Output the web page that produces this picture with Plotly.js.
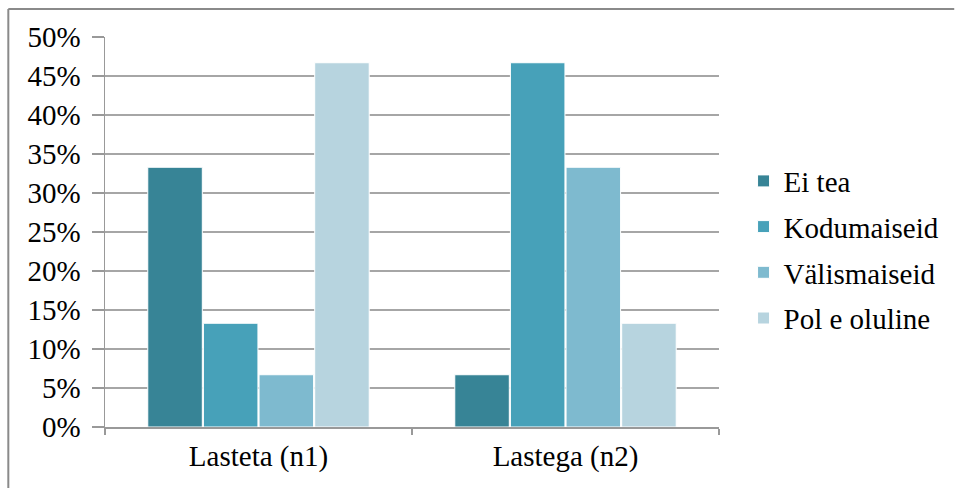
<!DOCTYPE html>
<html>
<head>
<meta charset="utf-8">
<script src="https://cdn.plot.ly/plotly-3.0.1.min.js"></script>
<style>html,body{margin:0;padding:0;background:#fff;}#chart{width:957px;height:488px;}</style>
</head>
<body>
<div id="chart"></div>
<script>
const categories = ["Lasteta (n1)", "Lastega (n2)"];
const seriesNames = ["Ei tea", "Kodumaiseid", "Välismaiseid", "Pole oluline"];
const eiTea = [0.333, 0.067];
const kodumaiseid = [0.133, 0.467];
const valismaiseid = [0.067, 0.333];
const poleOluline = [0.467, 0.133];
const legendLabels = ["Ei tea", "Kodumaiseid", "Välismaiseid", "Pol e oluline"];
const tickVals = [0, 0.05, 0.1, 0.15, 0.2, 0.25, 0.3, 0.35, 0.4, 0.45, 0.5];
const tickText = ["0%", "5%", "10%", "15%", "20%", "25%", "30%", "35%", "40%", "45%", "50%"];

const colors = ["#378496", "#47A1B9", "#7EBACF", "#B7D4DF"];
const values = [eiTea, kodumaiseid, valismaiseid, poleOluline];

const traces = values.map((v, i) => ({
  type: "bar",
  name: legendLabels[i],
  x: categories,
  y: v,
  legendgroup: "g" + i,
  marker: { color: colors[i], line: { color: "#ffffff", width: 1 } },
  hoverinfo: "x+y+name"
}));

const font = { family: "'Liberation Serif', 'Times New Roman', serif", size: 29, color: "#000" };

const layout = {
  width: 957, height: 488,
  margin: { l: 105, r: 236, t: 37, b: 61, pad: 0 },
  paper_bgcolor: "#fff", plot_bgcolor: "#fff",
  font: font,
  barmode: "group",
  bargap: 0.275,
  bargroupgap: 0.02,
  showlegend: true,
  legend: {
    x: 1.04, xanchor: "left", y: 0.455, yanchor: "middle",
    font: font, tracegroupgap: 5, itemwidth: 30,
    bgcolor: "rgba(0,0,0,0)"
  },
  xaxis: {
    type: "category",
    showline: true, linecolor: "#999", linewidth: 1.5,
    ticks: "outside", tickson: "boundaries", ticklen: 6, tickcolor: "#999", tickwidth: 1.5,
    showgrid: false, zeroline: false,
    tickfont: font, ticklabelstandoff: 3
  },
  yaxis: {
    range: [0, 0.5],
    tickvals: tickVals, ticktext: tickText,
    showline: true, linecolor: "#999", linewidth: 1.5,
    ticks: "outside", ticklen: 12, tickcolor: "#999", tickwidth: 1.5,
    showgrid: true, gridcolor: "#a6a6a6", gridwidth: 1.5,
    zeroline: false,
    tickfont: font, ticklabelstandoff: 5
  },
  shapes: [
    { type: "line", xref: "paper", yref: "paper", x0: (8 - 105) / 616, x1: (8 - 105) / 616, y0: (427 - 488) / 390, y1: (427 - 9) / 390, line: { color: "#8a8a8a", width: 2 } },
    { type: "line", xref: "paper", yref: "paper", x0: (8 - 105) / 616, x1: (957 - 105) / 616, y0: (427 - 9) / 390, y1: (427 - 9) / 390, line: { color: "#8a8a8a", width: 2 } }
  ]
};

Plotly.newPlot("chart", traces, layout, { displayModeBar: false, staticPlot: true });
</script>
</body>
</html>
